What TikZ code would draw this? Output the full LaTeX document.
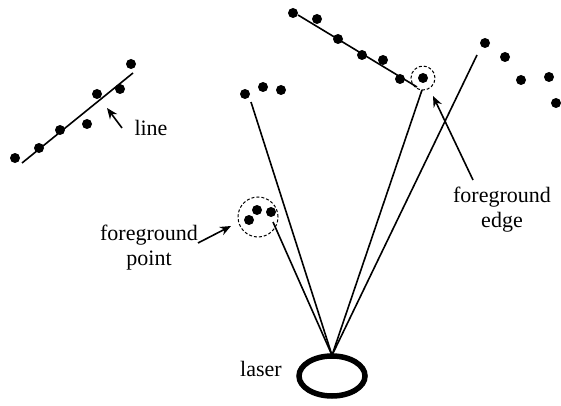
\documentclass[tikz,border=0pt]{standalone}
\usepackage{fontspec}
\setmainfont{Liberation Serif}
\usetikzlibrary{arrows.meta,shapes.geometric}

\def\dotsize{10pt}
\def\raywidth{1.6pt}

\begin{document}
\begin{tikzpicture}[x=1pt,y=-1pt,
    dot/.style={circle,fill=black,inner sep=0pt,minimum size=\dotsize},
    ray/.style={line width=\raywidth},
    pointer/.style={-{Stealth[length=11pt,width=9pt]},line width=\raywidth},
    txt/.style={font=\fontsize{22}{25}\selectfont,align=center,inner sep=0pt},
    ring/.style={circle,draw,densely dashed,line width=1pt,inner sep=0pt}]
        \useasboundingbox (0,0) rectangle (561,406);
        % laser
        \node[ellipse,draw,line width=5.5pt,minimum width=66pt,minimum height=40pt] (laser) at (332,376) {};
        \node[txt] (lasertxt) at (261,369) {laser};
        % left cluster with fitted line
        \foreach \n/\p in {1/{15,158},2/{39,148},3/{60,130},4/{87,124},5/{97,94},6/{120,89},7/{131,64}}
            \node[dot] (l\n) at (\p) {};
        \coordinate (lstart) at (22,163);
        \coordinate (lend) at (133,73);
        \draw[ray] (lstart) -- (lend);
        % top cluster with fitted line
        \foreach \n/\p in {1/{293,13},2/{317,19},3/{338,39},4/{362,55},5/{383,60},6/{400,79},7/{423,78}}
            \node[dot] (t\n) at (\p) {};
        \coordinate (tstart) at (298,15);
        \coordinate (tend) at (417,87);
        \draw[ray] (tstart) -- (tend);
        % right cluster
        \foreach \n/\p in {1/{485,43},2/{505,57},3/{521,80},4/{549,77},5/{556,103}}
            \node[dot] (r\n) at (\p) {};
        % middle cluster
        \foreach \n/\p in {1/{245,94},2/{263,87},3/{281,90}}
            \node[dot] (m\n) at (\p) {};
        % foreground point
        \foreach \n/\p in {1/{249,220},2/{257,210},3/{271,212}}
            \node[dot] (f\n) at (\p) {};
        \node[ring,minimum size=40pt] (fgpoint) at (258,217) {};
        % foreground edge
        \node[ring,minimum size=24pt] (fgedge) at (t7) {};
        % rays from the laser
        \coordinate (ray1) at (251,102);
        \coordinate (ray2) at (273,222);
        \coordinate (ray3) at (422,90);
        \coordinate (ray4) at (477,55);
        \foreach \r in {1,...,4}
            \draw[ray] ([yshift=-2pt]laser.north) -- (ray\r);
        % labels and pointers
        \node[txt] (linetxt) at (151,128) {line};
        \coordinate (linefrom) at (122,128);
        \coordinate (lineto) at (107,108);
        \draw[pointer] (linefrom) -- (lineto);
        \node[txt] (fgpointtxt) at (149,248) {foreground\\point};
        \coordinate (fpfrom) at (198,243);
        \coordinate (fpto) at (231,226);
        \draw[pointer] (fpfrom) -- (fpto);
        \node[txt] (fgedgetxt) at (502,210) {foreground\\edge};
        \coordinate (fefrom) at (473,180);
        \coordinate (feto) at (433,96);
        \draw[pointer] (fefrom) -- (feto);
\end{tikzpicture}
\end{document}
